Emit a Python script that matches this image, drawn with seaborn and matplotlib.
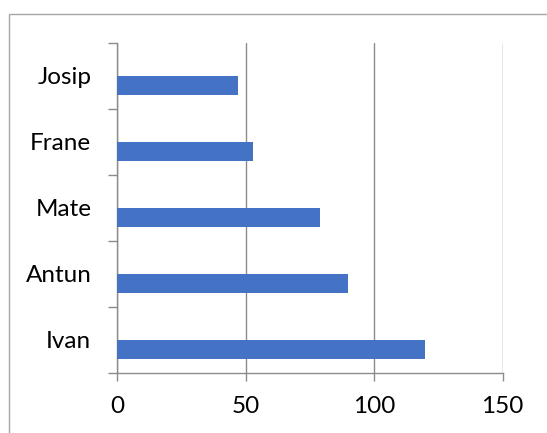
import matplotlib
matplotlib.use("Agg")
import matplotlib.pyplot as plt
from matplotlib.patches import Rectangle
from matplotlib.ticker import FixedLocator
import seaborn as sns
import pandas as pd

names = ["Ivan", "Antun", "Mate", "Frane", "Josip"]
values = [120, 90, 79, 53, 47]
x_ticks = [0, 50, 100, 150]

sns.set_theme(style="white")
plt.rcParams["font.family"] = ["Lato", "DejaVu Sans"]

df = pd.DataFrame({"name": names, "value": values, "series": ["Series1"] * len(names)})
order = names[::-1]

fig = plt.figure(figsize=(5.47, 4.33), dpi=100)
fig.patches.append(Rectangle((8.5 / 547, -0.1), 1.2, 1 - 13.8 / 433 + 0.1,
                             transform=fig.transFigure, fill=False,
                             edgecolor="#a6a6a6", linewidth=1.0))
ax = fig.add_axes([117 / 547, (433 - 372.5) / 433, 385.5 / 547, 330 / 433])

sns.barplot(data=df, y="name", x="value", hue="series", order=order,
            hue_order=["_blank", "Series1"],
            palette={"_blank": "#ffffff", "Series1": "#4472C4"},
            width=0.6, dodge=True, legend=False, ax=ax, saturation=1,
            linewidth=0, zorder=3)

ax.set_xlim(0, 150)
ax.set_ylim(len(order) - 0.5, -0.5)
ax.set_xticks(x_ticks)
ax.set_xticklabels([str(t) for t in x_ticks])
ax.set_xlabel("")
ax.set_ylabel("")

for s in ["top", "right"]:
    ax.spines[s].set_visible(False)
for s in ["left", "bottom"]:
    ax.spines[s].set_color("#8c8c8c")
    ax.spines[s].set_linewidth(1.0)

ax.xaxis.grid(True, color="#8c8c8c", linewidth=1.0, zorder=0)
ax.yaxis.grid(False)
ax.set_axisbelow(True)

ax.yaxis.set_minor_locator(FixedLocator([i - 0.5 for i in range(len(order) + 1)]))
ax.tick_params(axis="y", which="major", length=0, pad=18.5, labelsize=17.5, labelcolor="black")
ax.tick_params(axis="y", which="minor", length=6.5, width=1.0, color="#8c8c8c", left=True)
ax.tick_params(axis="x", which="major", length=6, width=1.0, color="#8c8c8c",
               bottom=True, pad=11, labelsize=17.5, labelcolor="black")

fig.savefig("out.png", dpi=100)
